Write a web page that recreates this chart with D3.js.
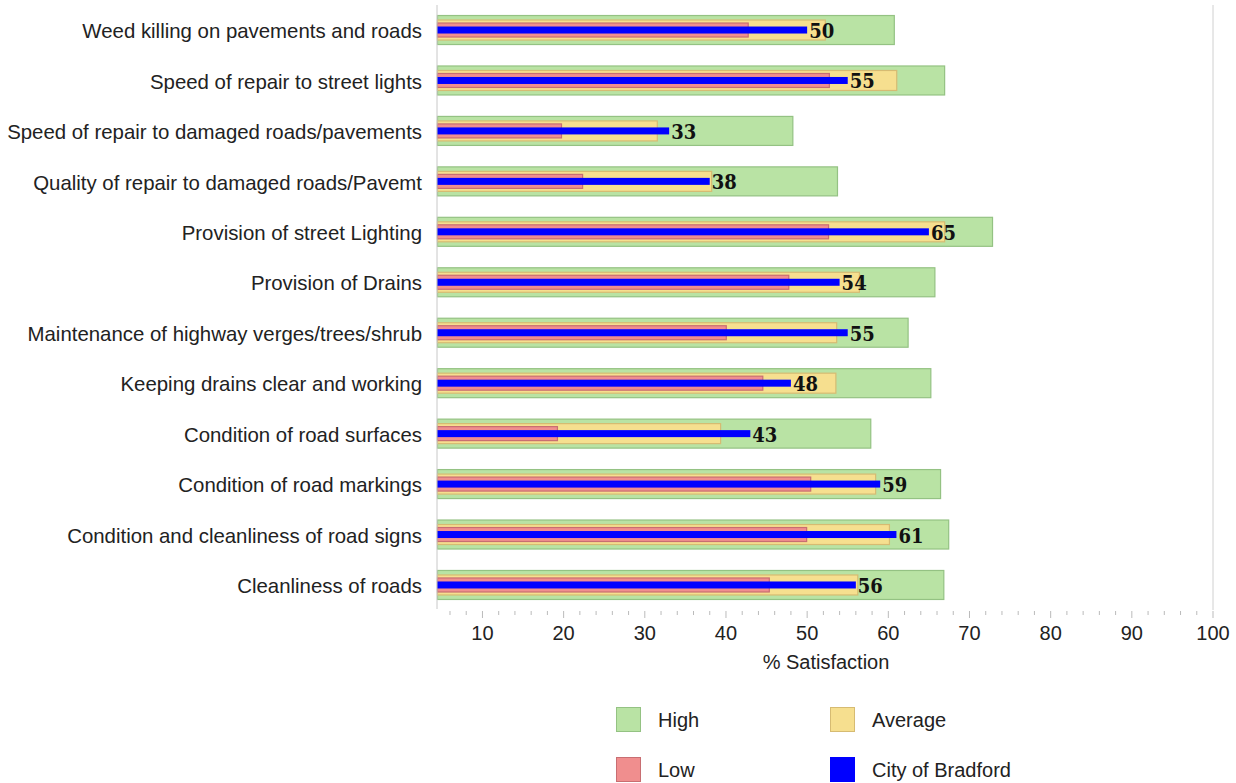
<!DOCTYPE html>
<html><head><meta charset="utf-8">
<script src="https://cdn.jsdelivr.net/npm/d3@7"></script>
<style>body{margin:0;background:#fff}svg{display:block}</style>
</head><body><svg id="c" width="1236" height="783"></svg>
<script>
const categories = ["Weed killing on pavements and roads","Speed of repair to street lights","Speed of repair to damaged roads/pavements","Quality of repair to damaged roads/Pavemt","Provision of street Lighting","Provision of Drains","Maintenance of highway verges/trees/shrub","Keeping drains clear and working","Condition of road surfaces","Condition of road markings","Condition and cleanliness of road signs","Cleanliness of roads"];
const high    = [60.8, 67.0, 48.3, 53.8, 72.9, 65.8, 62.5, 65.3, 57.9, 66.5, 67.5, 66.9];
const average = [52.3, 61.1, 31.6, 38.3, 67.0, 56.5, 53.7, 53.6, 39.4, 58.5, 60.2, 56.3];
const low     = [42.8, 52.8, 19.8, 22.4, 52.7, 47.8, 40.1, 44.6, 19.3, 50.5, 50.0, 45.4];
const bradford= [50, 55, 33, 38, 65, 54, 55, 48, 43, 59, 61, 56];
const tickValues = [10,20,30,40,50,60,70,80,90,100];
const legendItems = ["High","Average","Low","City of Bradford"];

const svg = d3.select("#c");
const x = d3.scaleLinear().domain([4.4,100]).range([437,1213]);
const y = d3.scaleBand().domain(categories).range([4.8,610.2]).padding(0);
const cy = c => y(c) + y.bandwidth()/2;
const sans = "Liberation Sans, Arial, sans-serif";

svg.append("line").attr("x1",1213).attr("x2",1213).attr("y1",5).attr("y2",610).attr("stroke","#d0d0d0").attr("stroke-width",1);

const rows = categories.map((c,i)=>({c,h:high[i],a:average[i],l:low[i],b:bradford[i]}));
const g = svg.append("g");
const layers = [
  {k:"h",hh:30,fill:"#b9e3a4",stroke:"#94c283"},
  {k:"a",hh:21,fill:"#f6df8f",stroke:"#d6bb72"},
  {k:"l",hh:15,fill:"#f08e8e",stroke:"#c86e72"},
];
layers.forEach(L=>{
  g.selectAll(null).data(rows).enter().append("rect")
   .attr("x",x(4.4)+0.5).attr("y",d=>cy(d.c)-L.hh/2+0.5)
   .attr("width",d=>x(d[L.k])-x(4.4)-1).attr("height",L.hh-1)
   .attr("fill",L.fill).attr("stroke",L.stroke).attr("stroke-width",1.2);
});
g.selectAll(null).data(rows).enter().append("rect")
  .attr("x",x(4.4)).attr("y",d=>cy(d.c)-3.5)
  .attr("width",d=>x(d.b)-x(4.4)).attr("height",7).attr("fill","#0000ff");
g.selectAll(null).data(rows).enter().append("text")
  .attr("x",d=>x(d.b)+2).attr("y",d=>cy(d.c)+1).attr("dy","0.35em")
  .attr("font-family","DejaVu Serif Condensed, DejaVu Serif, serif").attr("font-stretch","condensed")
  .attr("font-weight","bold").attr("font-size",20)
  .attr("fill","#111").text(d=>d.b);

svg.append("g").selectAll("text").data(categories).enter().append("text")
  .attr("x",422).attr("y",c=>cy(c)+1).attr("dy","0.35em").attr("text-anchor","end")
  .attr("font-family",sans).attr("font-size",20.4).attr("fill","#222").text(c=>c);

svg.append("line").attr("x1",437).attr("x2",437).attr("y1",5).attr("y2",609).attr("stroke","#c8c8c8");

const minor = d3.range(6,100,2).filter(v=>v%10!==0);
const ax = svg.append("g");
ax.selectAll(".mi").data(minor).enter().append("line")
  .attr("x1",d=>x(d)).attr("x2",d=>x(d)).attr("y1",611).attr("y2",615).attr("stroke","#bbb");
ax.selectAll(".ma").data(tickValues).enter().append("line")
  .attr("x1",d=>x(d)).attr("x2",d=>x(d)).attr("y1",611).attr("y2",618).attr("stroke","#bbb");
ax.selectAll("text").data(tickValues).enter().append("text")
  .attr("x",d=>x(d)).attr("y",640).attr("text-anchor","middle")
  .attr("font-family",sans).attr("font-size",20).attr("fill","#222").text(d=>d);
svg.append("text").attr("x",826).attr("y",669).attr("text-anchor","middle")
  .attr("font-family",sans).attr("font-size",20).attr("fill","#222").text("% Satisfaction");

const legFill = ["#b9e3a4","#f6df8f","#f08e8e","#0000ff"];
const legStroke = ["#94c283","#d6bb72","#c86e72","#0000ff"];
const lg = svg.append("g");
legendItems.forEach((t,i)=>{
  const col = i%2, row = Math.floor(i/2);
  const lx = col===0?616:830, ly = row===0?707:757;
  lg.append("rect").attr("x",lx+0.5).attr("y",ly+0.5).attr("width",24).attr("height",24)
    .attr("fill",legFill[i]).attr("stroke",legStroke[i]);
  lg.append("text").attr("x",lx+42).attr("y",ly+13).attr("dy","0.35em")
    .attr("font-family",sans).attr("font-size",20).attr("fill","#222").text(t);
});
</script></body></html>
